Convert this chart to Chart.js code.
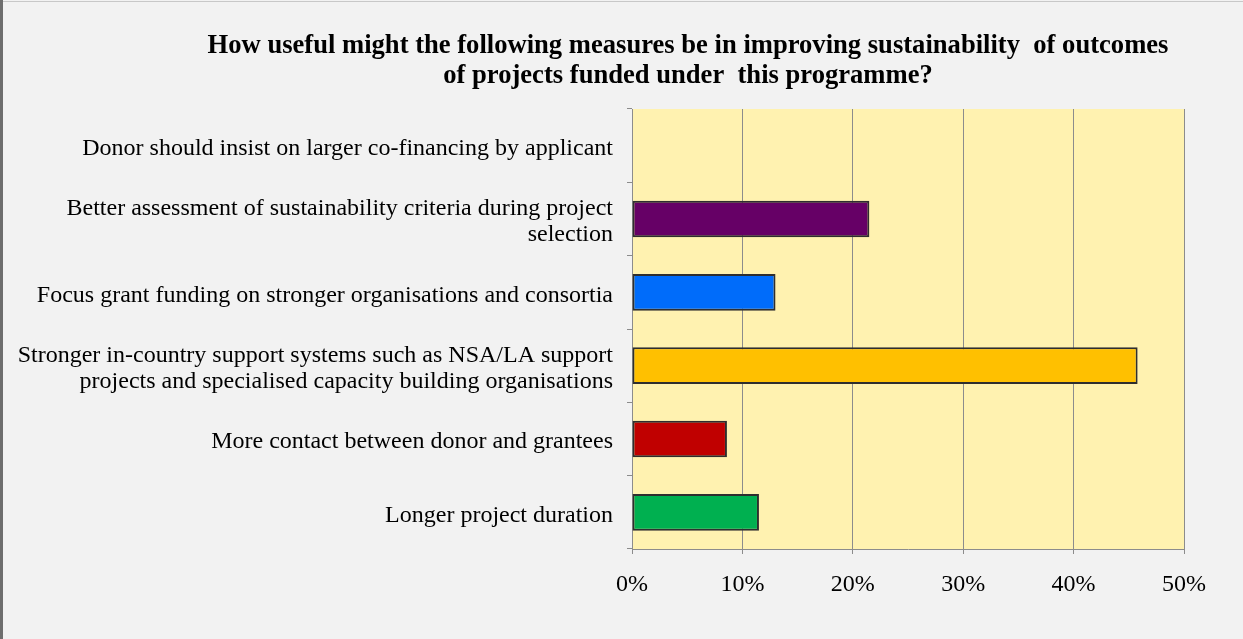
<!DOCTYPE html>
<html>
<head>
<meta charset="utf-8">
<script src="https://cdn.jsdelivr.net/npm/chart.js@4/dist/chart.umd.min.js"></script>
<style>
  html, body { margin: 0; padding: 0; background: #f2f2f2; }
  #wrap { position: relative; width: 1243px; height: 639px; background: #f2f2f2; overflow: hidden; }
  #wrap canvas { position: absolute; left: 0; top: 0; }
  .edge-top { position: absolute; left: 0; top: 1px; width: 1243px; height: 1px; background: #c8c8c8; }
  .edge-left { position: absolute; left: 0; top: 0; width: 3px; height: 639px; background: #6e6e6e; }
</style>
</head>
<body>
<div id="wrap">
  <canvas id="chart" width="1243" height="639"></canvas>
  <div class="edge-top"></div>
  <div class="edge-left"></div>
</div>
<script>
// Survey measures (top to bottom) and share of respondents rating each useful
const categories = [
  "Donor should insist on larger co-financing by applicant",
  ["Better assessment of sustainability criteria during project", "selection"],
  "Focus grant funding on stronger organisations and consortia",
  ["Stronger in-country support systems such as NSA/LA support", "projects and specialised capacity building organisations"],
  "More contact between donor and grantees",
  "Longer project duration"
];
const shares = [0, 21.5, 13.0, 45.8, 8.6, 11.5];
const barColors = ["#7030a0", "#660066", "#006cfa", "#ffc000", "#c00000", "#00b050"];
const tickValues = [0, 10, 20, 30, 40, 50];
const titleLines = [
  "How useful might the following measures be in improving sustainability  of outcomes",
  "of projects funded under  this programme?"
];

const serif = "'Liberation Serif', 'Times New Roman', serif";

// Pale yellow plot background behind the bars
const plotFill = {
  id: 'plotFill',
  beforeDraw(chart) {
    const { ctx, chartArea: a } = chart;
    ctx.save();
    ctx.fillStyle = '#fff2b0';
    ctx.fillRect(a.left, a.top, a.right - a.left, a.bottom - a.top);
    ctx.restore();
  }
};

// Two-line bold heading centred over the plot region
const heading = {
  id: 'heading',
  afterDraw(chart) {
    const ctx = chart.ctx;
    ctx.save();
    ctx.fillStyle = '#000';
    ctx.font = "bold 26.6px " + serif;
    ctx.textAlign = 'center';
    ctx.textBaseline = 'middle';
    ctx.fillText(titleLines[0], 688, 46);
    ctx.fillText(titleLines[1], 688, 76);
    ctx.restore();
  }
};

new Chart(document.getElementById('chart'), {
  type: 'bar',
  data: {
    labels: categories,
    datasets: [{
      data: shares,
      backgroundColor: barColors,
      borderColor: '#2e2e2e',
      borderWidth: 2,
      borderSkipped: false,
      categoryPercentage: 0.5,
      barPercentage: 1.0
    }]
  },
  options: {
    indexAxis: 'y',
    responsive: false,
    animation: false,
    layout: { padding: { top: 109, right: 59, bottom: 0, left: 0 } },
    plugins: {
      legend: { display: false },
      title: { display: false },
      tooltip: { enabled: false }
    },
    scales: {
      x: {
        min: 0,
        max: 50,
        afterBuildTicks(scale) { scale.ticks = tickValues.map(v => ({ value: v })); },
        afterFit(scale) { scale.height = 90; },
        ticks: {
          callback: v => v + '%',
          color: '#000',
          font: { family: serif, size: 24 },
          padding: 16,
          maxRotation: 0
        },
        grid: { color: '#8c8c8c', lineWidth: 1, tickLength: 5, drawOnChartArea: true },
        border: { color: '#8c8c8c', width: 1 }
      },
      y: {
        afterFit(scale) { scale.width = 632; },
        ticks: {
          color: '#000',
          font: { family: serif, size: 24, lineHeight: 1.1 },
          padding: 14,
          labelOffset: 3
        },
        grid: { color: '#8c8c8c', drawOnChartArea: false, tickLength: 5, offset: true },
        border: { color: '#8c8c8c', width: 1 }
      }
    }
  },
  plugins: [plotFill, heading]
});
</script>
</body>
</html>
